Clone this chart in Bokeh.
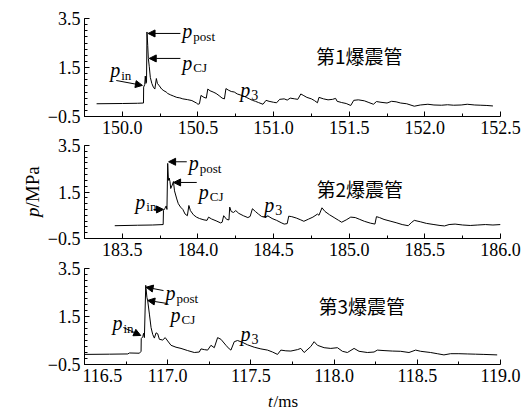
from bokeh.plotting import figure
from bokeh.layouts import column, row
from bokeh.models import (FixedTicker, PrintfTickFormatter, Label, Arrow, NormalHead,
                          Range1d)
from bokeh.embed import file_html
from bokeh.resources import INLINE

# ---------------- data ----------------
t1 = [149.83, 150.00, 150.10, 150.14, 150.141, 150.148, 150.152, 150.156, 150.160, 150.163,
      150.168, 150.172, 150.178, 150.185, 150.195, 150.205, 150.215, 150.225, 150.232, 150.245,
      150.26, 150.275, 150.29, 150.30, 150.32, 150.34, 150.36, 150.38, 150.40, 150.43,
      150.46, 150.49, 150.50, 150.51, 150.52, 150.54, 150.555, 150.565, 150.58, 150.60,
      150.62, 150.64, 150.66, 150.675, 150.685, 150.70, 150.72, 150.74, 150.76, 150.78,
      150.80, 150.82, 150.84, 150.86, 150.88, 150.90, 150.93, 150.95, 150.97, 151.00,
      151.02, 151.04, 151.07, 151.09, 151.11, 151.14, 151.16, 151.18, 151.20, 151.22,
      151.25, 151.27, 151.29, 151.30, 151.33, 151.36, 151.39, 151.41, 151.42, 151.45,
      151.48, 151.51, 151.53, 151.56, 151.60, 151.63, 151.66, 151.68, 151.71, 151.75,
      151.78, 151.81, 151.84, 151.88, 151.93, 151.97, 152.02, 152.06, 152.11, 152.15,
      152.19, 152.24, 152.28, 152.33, 152.37, 152.41, 152.45]
p1 = [0.02, 0.03, 0.04, 0.05, 0.70, 0.80, 1.15, 0.85, 0.90, 2.95,
      2.40, 1.87, 1.55, 1.10, 0.85, 0.70, 0.62, 1.05, 0.85, 0.75,
      0.62, 0.55, 0.50, 0.44, 0.38, 0.33, 0.28, 0.26, 0.22, 0.19,
      0.15, 0.05, 0.00, 0.02, 0.36, 0.28, 0.25, 0.62, 0.55, 0.50,
      0.44, 0.35, 0.25, 0.22, 0.64, 0.58, 0.52, 0.50, 0.42, 0.38,
      0.34, 0.28, 0.22, 0.16, 0.12, 0.07, 0.00, 0.16, 0.12, 0.08,
      0.06, 0.20, 0.22, 0.17, 0.25, 0.22, 0.20, 0.42, 0.35, 0.28,
      0.22, 0.15, 0.06, 0.28, 0.22, 0.18, 0.20, 0.24, 0.12, 0.07,
      0.03, -0.05, 0.16, 0.18, 0.14, 0.07, 0.00, 0.11, 0.08, 0.05,
      0.12, 0.10, 0.05, 0.02, -0.08, -0.03, 0.00, -0.03, -0.04, -0.02,
      -0.04, -0.03, 0.00, -0.03, -0.04, -0.05, -0.07]

t2 = [183.45, 183.60, 183.70, 183.77, 183.772, 183.78, 183.79, 183.795, 183.80, 183.805,
      183.81, 183.815, 183.82, 183.83, 183.838, 183.845, 183.86, 183.87, 183.885, 183.90,
      183.915, 183.93, 183.94, 183.95, 183.97, 183.99, 184.01, 184.04, 184.06, 184.07,
      184.09, 184.12, 184.15, 184.16, 184.17, 184.19, 184.205, 184.21, 184.22, 184.235,
      184.25, 184.27, 184.30, 184.33, 184.345, 184.36, 184.38, 184.40, 184.42, 184.45,
      184.46, 184.49, 184.52, 184.55, 184.57, 184.59, 184.60, 184.62, 184.65, 184.68,
      184.70, 184.73, 184.76, 184.79, 184.80, 184.82, 184.84, 184.87, 184.90, 184.93,
      184.95, 184.98, 185.01, 185.04, 185.07, 185.10, 185.14, 185.17, 185.18, 185.20,
      185.23, 185.27, 185.31, 185.35, 185.39, 185.41, 185.43, 185.47, 185.51, 185.56,
      185.60, 185.63, 185.66, 185.70, 185.75, 185.80, 185.85, 185.90, 185.95, 186.00]
p2 = [0.05, 0.07, 0.08, 0.10, 0.70, 0.78, 0.90, 0.75, 2.73, 2.00,
      2.10, 1.95, 1.65, 1.80, 1.95, 1.55, 1.20, 1.00, 0.85, 0.75,
      0.55, 0.48, 0.92, 0.70, 0.52, 0.42, 0.36, 0.30, 0.28, 0.42,
      0.34, 0.26, 0.17, 0.20, 0.48, 0.32, 0.30, 0.85, 0.66, 0.62,
      0.70, 0.58, 0.48, 0.40, 0.45, 0.78, 0.66, 0.55, 0.45, 0.40,
      0.48, 0.36, 0.28, 0.18, 0.12, 0.14, 0.46, 0.44, 0.38, 0.30,
      0.24, 0.33, 0.42, 0.55, 0.50, 0.82, 0.66, 0.52, 0.40, 0.28,
      0.20, 0.30, 0.42, 0.40, 0.32, 0.24, 0.16, 0.12, 0.44, 0.40,
      0.32, 0.25, 0.18, 0.10, 0.05, 0.18, 0.28, 0.22, 0.15, 0.10,
      0.06, 0.04, 0.10, 0.12, 0.08, 0.06, 0.08, 0.10, 0.08, 0.10]

t3 = [116.50, 116.65, 116.76, 116.77, 116.83, 116.84, 116.841, 116.85, 116.855, 116.86,
      116.868, 116.875, 116.88, 116.89, 116.90, 116.91, 116.92, 116.93, 116.94, 116.95,
      116.97, 116.985, 117.00, 117.02, 117.05, 117.08, 117.12, 117.16, 117.19, 117.20,
      117.22, 117.24, 117.26, 117.28, 117.30, 117.32, 117.35, 117.37, 117.38, 117.40,
      117.42, 117.45, 117.48, 117.52, 117.56, 117.60, 117.63, 117.66, 117.68, 117.71,
      117.74, 117.78, 117.80, 117.82, 117.86, 117.88, 117.90, 117.94, 117.98, 118.02,
      118.05, 118.08, 118.12, 118.15, 118.20, 118.24, 118.26, 118.30, 118.35, 118.40,
      118.45, 118.49, 118.52, 118.58, 118.62, 118.66, 118.70, 118.75, 118.80, 118.85,
      118.90, 118.98]
p3 = [-0.08, -0.07, -0.06, -0.02, -0.03, 0.05, 0.58, 0.65, 0.80, 0.62,
      2.80, 2.30, 2.15, 1.60, 1.04, 0.75, 0.60, 0.82, 0.78, 0.55,
      0.52, 0.62, 0.48, 0.30, 0.22, 0.17, 0.08, 0.00, 0.02, 0.15,
      0.12, 0.10, 0.30, 0.20, 0.62, 0.55, 0.30, 0.15, 0.10, 0.45,
      0.50, 0.42, 0.32, 0.22, 0.15, 0.10, 0.02, -0.08, 0.10, 0.07,
      0.06, 0.12, 0.17, 0.00, 0.25, 0.45, 0.30, 0.20, 0.17, 0.20,
      0.05, 0.00, 0.17, 0.05, 0.00, 0.02, 0.10, 0.08, 0.06, 0.05,
      0.00, 0.10, 0.05, 0.00, -0.05, -0.10, -0.05, -0.05, -0.06, -0.07,
      -0.08, -0.10]

titles = ["第1爆震管", "第2爆震管", "第3爆震管"]
x_ranges = [(149.75, 152.5), (183.25, 186.0), (116.5, 119.0)]
x_major = [[150.0, 150.5, 151.0, 151.5, 152.0, 152.5],
           [183.5, 184.0, 184.5, 185.0, 185.5, 186.0],
           [116.5, 117.0, 117.5, 118.0, 118.5, 119.0]]
y_range = (-0.5, 3.5)
y_major = [-0.5, 1.5, 3.5]
y_labels = ["\u22120.5", "1.5", "3.5"]
y_title = ("p", "/MPa")
x_title = ("t", "/ms")

# annotation anchors (data coords): p text, arrow start/end, title
annots = [
    dict(post=(150.397, 2.97), post_arrow=((150.384, 2.89), (150.170, 2.89)),
         cj=(150.397, 1.70), cj_arrow=((150.384, 1.87), (150.178, 1.87)),
         pin=(149.92, 1.38), in_arrow=((149.96, 0.97), (150.133, 0.77)),
         p3=(150.78, 0.60), title=(151.28, 1.99)),
    dict(post=(183.939, 2.73), post_arrow=((183.926, 2.80), (183.806, 2.80)),
         cj=(184.005, 1.52), cj_arrow=((183.992, 1.91), (183.839, 1.91)),
         pin=(183.586, 1.09), in_arrow=((183.706, 0.75), (183.772, 0.75)),
         p3=(184.438, 0.96), title=(184.783, 1.65)),
    dict(post=(116.987, 2.46), post_arrow=((116.975, 2.58), (116.870, 2.72)),
         cj=(117.017, 1.58), cj_arrow=((116.999, 2.04), (116.880, 2.17)),
         pin=(116.668, 1.21), in_arrow=((116.734, 1.04), (116.838, 0.71)),
         p3=(117.4375, 0.79), title=(117.906, 1.96)),
]

SERIF = "Liberation Serif"
CJK = "Noto Sans CJK SC"

# ---------------- layout (pixels) ----------------
TOTAL_W, TOTAL_H = 524, 410
LEFT_W = 82            # strip holding y tick labels and y title
PANEL_BL = 2           # panel left border -> frame starts at 84
FRAME_W = 416
PANEL_W = TOTAL_W - LEFT_W
PANEL_BR = PANEL_W - PANEL_BL - FRAME_W
frame_tops = [18, 145, 268]
frame_hs = [98, 93, 96]
BOTTOM = 26

fig_heights, fig_tops = [], []
start = 0
for k in range(3):
    tb = frame_tops[k] - start
    h = tb + frame_hs[k] + BOTTOM
    fig_tops.append(tb)
    fig_heights.append(h)
    start += h
XSTRIP_H = TOTAL_H - start

series = [(t1, p1), (t2, p2), (t3, p3)]
figs = []
for i in range(3):
    x0, x1 = x_ranges[i]
    fh = frame_hs[i]
    ypx = fh / (y_range[1] - y_range[0])
    p = figure(width=PANEL_W, height=fig_heights[i], output_backend="svg",
               toolbar_location=None,
               x_range=Range1d(x0, x1), y_range=Range1d(*y_range),
               min_border_left=PANEL_BL, min_border_right=PANEL_BR,
               min_border_top=fig_tops[i], min_border_bottom=BOTTOM)
    p.outline_line_color = None
    p.grid.visible = False
    p.background_fill_color = "white"
    p.border_fill_color = "white"

    t, v = series[i]
    p.line(t, v, line_color="black", line_width=1)

    minors_x = [m + 0.25 for m in x_major[i][:-1]] + [x_major[i][0] - 0.25]
    p.xaxis.ticker = FixedTicker(ticks=x_major[i], minor_ticks=minors_x)
    p.xaxis.formatter = PrintfTickFormatter(format="%.1f")
    p.yaxis.ticker = FixedTicker(ticks=y_major,
                                 minor_ticks=[-0.5 + 0.25 * k for k in range(17)])
    p.yaxis.major_label_overrides = {vv: "" for vv in y_major}
    p.yaxis.major_label_text_font_size = "0px"
    p.yaxis.major_label_standoff = 0
    for ax in (p.xaxis, p.yaxis):
        ax.major_tick_in = 5
        ax.major_tick_out = 0
        ax.minor_tick_in = 3
        ax.minor_tick_out = 0
        ax.axis_line_color = "black"
        ax.major_tick_line_color = "black"
        ax.minor_tick_line_color = "black"
    p.xaxis.major_label_text_font = SERIF
    p.xaxis.major_label_text_font_size = "18px"
    p.xaxis.major_label_text_color = "black"
    p.xaxis.major_label_standoff = 4

    a = annots[i]

    def ptext(pos, sub, sub_font="13px"):
        p.add_layout(Label(x=pos[0], y=pos[1], text="p", text_font=SERIF,
                           text_font_style="italic", text_font_size="20px",
                           text_baseline="alphabetic", text_align="left",
                           text_color="black"))
        p.add_layout(Label(x=pos[0], y=pos[1] - 5.0 / ypx, text=sub, text_font=SERIF,
                           text_font_size=sub_font, x_offset=11,
                           text_baseline="alphabetic", text_align="left",
                           text_color="black"))

    def arrow(seg):
        (xs, ys), (xe, ye) = seg
        p.add_layout(Arrow(x_start=xs, y_start=ys, x_end=xe, y_end=ye,
                           line_color="black", line_width=1,
                           end=NormalHead(size=7, fill_color="black", line_color="black")))

    ptext(a["post"], "post")
    arrow(a["post_arrow"])
    ptext(a["cj"], "CJ")
    arrow(a["cj_arrow"])
    ptext(a["pin"], "in")
    arrow(a["in_arrow"])
    ptext(a["p3"], "3", "14px")
    p.add_layout(Label(x=a["title"][0], y=a["title"][1], text=titles[i], text_font=CJK,
                       text_font_size="19px", text_baseline="middle", text_align="left",
                       text_color="black"))
    figs.append(p)

# ---------------- left strip: y tick labels + y title ----------------
lf = figure(width=LEFT_W, height=TOTAL_H, output_backend="svg", toolbar_location=None,
            x_range=Range1d(0, LEFT_W), y_range=Range1d(0, TOTAL_H),
            x_axis_type=None, y_axis_type=None, min_border=0)
lf.outline_line_color = None
lf.grid.visible = False
for k in range(3):
    for val, lab in zip(y_major, y_labels):
        py = frame_tops[k] + (y_range[1] - val) / (y_range[1] - y_range[0]) * frame_hs[k]
        lf.add_layout(Label(x=LEFT_W - 2, y=TOTAL_H - py, text=lab, text_font=SERIF,
                            text_font_size="18px", text_align="right",
                            text_baseline="middle", text_color="black"))
mid = frame_tops[1] + frame_hs[1] / 2.0
lf.add_layout(Label(x=32, y=TOTAL_H - (mid + 25), text=y_title[0], text_font=SERIF,
                    text_font_style="italic", text_font_size="19px", angle=1.5708,
                    text_baseline="middle", text_align="left", text_color="black"))
lf.add_layout(Label(x=32, y=TOTAL_H - (mid + 15.5), text=y_title[1], text_font=SERIF,
                    text_font_size="19px", angle=1.5708,
                    text_baseline="middle", text_align="left", text_color="black"))

# ---------------- bottom strip: x title ----------------
xf = figure(width=PANEL_W, height=XSTRIP_H, output_backend="svg", toolbar_location=None,
            x_range=Range1d(LEFT_W, TOTAL_W), y_range=Range1d(0, XSTRIP_H),
            x_axis_type=None, y_axis_type=None, min_border=0)
xf.outline_line_color = None
xf.grid.visible = False
xc = 84 + FRAME_W / 2.0
xf.add_layout(Label(x=xc - 15, y=XSTRIP_H / 2.0 - 1, text=x_title[0], text_font=SERIF,
                    text_font_style="italic", text_font_size="17px",
                    text_baseline="middle", text_align="left", text_color="black"))
xf.add_layout(Label(x=xc - 15, y=XSTRIP_H / 2.0 - 1, x_offset=5.5, text=x_title[1],
                    text_font=SERIF, text_font_size="17px",
                    text_baseline="middle", text_align="left", text_color="black"))

layout = row(lf, column(*figs, xf, spacing=0), spacing=0)
open("out.html", "w").write(file_html(layout, INLINE))
